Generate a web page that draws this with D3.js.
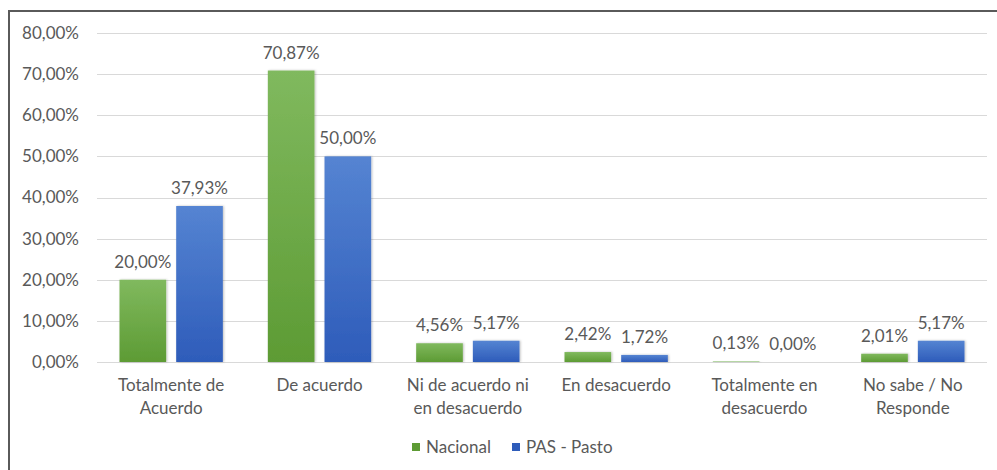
<!DOCTYPE html>
<html>
<head>
<meta charset="utf-8">
<script src="https://d3js.org/d3.v7.min.js"></script>
<style>
  body { margin: 0; background: #fff; }
  svg { display: block; }
  text { font-family: Lato, "Open Sans", sans-serif; fill: #595959; }
</style>
</head>
<body>
<svg id="chart" width="997" height="470"></svg>
<script>
    // categories and series
    var categories = ["Totalmente de Acuerdo", "De acuerdo", "Ni de acuerdo ni en desacuerdo",
                      "En desacuerdo", "Totalmente en desacuerdo", "No sabe / No Responde"];
    var catLines = [["Totalmente de", "Acuerdo"], ["De acuerdo"], ["Ni de acuerdo ni", "en desacuerdo"],
                    ["En desacuerdo"], ["Totalmente en", "desacuerdo"], ["No sabe / No", "Responde"]];
    var seriesNames = ["Nacional", "PAS - Pasto"];
    var nacional = [20.00, 70.87, 4.56, 2.42, 0.13, 2.01];
    var pasto = [37.93, 50.00, 5.17, 1.72, 0.00, 5.17];
    var yTicks = [0, 10, 20, 30, 40, 50, 60, 70, 80];

    var colors = { "Nacional": ["#80b95e", "#5d9b34"], "PAS - Pasto": ["#5584d2", "#2e5cba"] };

    var svg = d3.select("#chart");
    var plotLeft = 97, plotRight = 987, plotTop = 33, plotBottom = 362;
    var fontSize = 17;

    var fmt = function(v) { return v.toFixed(2).replace(".", ",") + "%"; };

    // frame
    svg.append("path")
        .attr("d", "M9,470 V11 H997")
        .attr("fill", "none")
        .attr("stroke", "#5a5a5a")
        .attr("stroke-width", 2);

    var defs = svg.append("defs");
    seriesNames.forEach(function(s, i) {
        var g = defs.append("linearGradient").attr("id", "grad" + i)
            .attr("x1", 0).attr("y1", 0).attr("x2", 0).attr("y2", 1);
        g.append("stop").attr("offset", "0%").attr("stop-color", colors[s][0]);
        g.append("stop").attr("offset", "100%").attr("stop-color", colors[s][1]);
    });
    var shadow = defs.append("filter").attr("id", "shadow")
        .attr("x", "-20%").attr("y", "-20%").attr("width", "140%").attr("height", "140%");
    shadow.append("feDropShadow").attr("dx", 1).attr("dy", 0).attr("stdDeviation", 1)
        .attr("flood-color", "#000").attr("flood-opacity", 0.25);

    var y = d3.scaleLinear().domain([0, 80]).range([plotBottom, plotTop]);
    var x0 = d3.scaleBand().domain(categories).range([plotLeft, plotRight]);
    var x1 = d3.scaleBand().domain(seriesNames).range([22.5, x0.bandwidth() - 22.5]).paddingInner(0.177);

    // gridlines
    svg.append("g").selectAll("line")
        .data(yTicks)
        .enter().append("line")
        .attr("x1", plotLeft).attr("x2", plotRight)
        .attr("y1", function(d) { return Math.round(y(d)) + 0.5; })
        .attr("y2", function(d) { return Math.round(y(d)) + 0.5; })
        .attr("stroke", "#d9d9d9")
        .attr("stroke-width", 1);

    // y axis labels
    var yAxis = d3.axisLeft(y).tickValues(yTicks).tickFormat(fmt).tickSize(0).tickPadding(18);
    var ya = svg.append("g").attr("transform", "translate(" + plotLeft + ",0)").call(yAxis);
    ya.select(".domain").remove();
    ya.selectAll("text").attr("font-size", fontSize).style("fill", "#595959")
        .style("font-family", "Lato, sans-serif");

    var rows = categories.map(function(c, i) {
        return { cat: c, values: [{ s: seriesNames[0], v: nacional[i] }, { s: seriesNames[1], v: pasto[i] }] };
    });

    var groups = svg.append("g").selectAll("g")
        .data(rows)
        .enter().append("g")
        .attr("transform", function(d) { return "translate(" + x0(d.cat) + ",0)"; });

    groups.selectAll("rect")
        .data(function(d) { return d.values; })
        .enter().append("rect")
        .attr("x", function(d) { return x1(d.s); })
        .attr("width", x1.bandwidth())
        .attr("y", function(d) { return y(d.v); })
        .attr("height", function(d) { return plotBottom - y(d.v); })
        .attr("fill", function(d) { return "url(#grad" + seriesNames.indexOf(d.s) + ")"; })
        .attr("filter", "url(#shadow)");

    groups.selectAll("text.val")
        .data(function(d) { return d.values; })
        .enter().append("text")
        .attr("class", "val")
        .attr("x", function(d) { return x1(d.s) + x1.bandwidth() / 2; })
        .attr("y", function(d) { return y(d.v) - 12; })
        .attr("text-anchor", "middle")
        .attr("font-size", fontSize)
        .text(function(d) { return fmt(d.v); });

    // category labels
    groups.each(function(d, i) {
        var t = d3.select(this).append("text")
            .attr("text-anchor", "middle")
            .attr("font-size", fontSize);
        catLines[i].forEach(function(line, j) {
            t.append("tspan")
                .attr("x", x0.bandwidth() / 2)
                .attr("y", 391 + j * 23)
                .text(line);
        });
    });

    // legend
    var legendX = [412, 512];
    var legend = svg.append("g").selectAll("g")
        .data(seriesNames)
        .enter().append("g")
        .attr("transform", function(d, i) { return "translate(" + legendX[i] + ",443)"; });
    legend.append("rect")
        .attr("width", 8).attr("height", 8)
        .attr("fill", function(d) { return colors[d][1]; });
    legend.append("text")
        .attr("x", 14).attr("y", 10)
        .attr("font-size", fontSize)
        .text(function(d) { return d; });
</script>
</body>
</html>
